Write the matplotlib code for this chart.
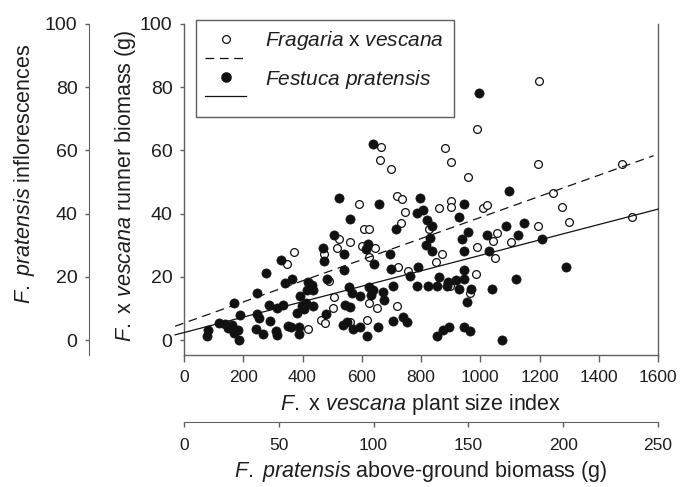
import matplotlib.pyplot as plt
from matplotlib.lines import Line2D

plt.rcParams['font.family'] = ['Liberation Sans', 'DejaVu Sans']
plt.rcParams['mathtext.fontset'] = 'custom'
plt.rcParams['mathtext.rm'] = 'Liberation Sans'
plt.rcParams['mathtext.it'] = 'Liberation Sans:italic'

# Fragaria x vescana (open circles): plant size index, runner biomass (g)
fragaria_x = [1199, 989, 880, 901, 960, 1196, 665, 663, 700, 1477, 1275, 1301, 1511, 1247,
              718, 735, 747, 860, 901, 902, 1008, 1024, 731, 828, 872, 851, 988, 1044, 1055,
              1049, 1104, 1195, 721, 756, 898, 965, 986, 720, 592, 608, 624, 524, 518, 560,
              473, 600, 645, 625, 371, 349, 491, 506, 625, 650, 502, 461, 476, 560, 617, 420]
fragaria_y = [82.1, 66.7, 60.8, 56.2, 51.7, 55.7, 61.2, 57.0, 54.1, 55.6, 42.0, 37.5, 39.0, 46.7,
              45.7, 44.5, 40.6, 41.7, 43.9, 42.2, 41.9, 42.9, 36.9, 35.3, 27.4, 24.7, 29.6, 31.5, 33.8,
              25.9, 30.9, 36.0, 23.0, 21.9, 17.1, 14.8, 20.9, 10.8, 43.2, 35.3, 35.1, 32.0, 29.3, 31.2,
              27.4, 29.7, 29.0, 26.2, 27.8, 24.1, 18.8, 13.5, 11.8, 10.3, 10.3, 6.3, 5.3, 5.8, 6.3, 3.4]

# Festuca pratensis (filled circles): above-ground biomass on the size-index scale, inflorescences
festuca_x = [637, 996, 1289, 1097, 796, 785, 806, 944, 927, 717, 819, 836, 831, 816, 836, 958,
             937, 945, 1022, 1028, 1088, 1126, 1147, 1208, 695, 698, 789, 763, 707, 788, 825, 853,
             861, 887, 892, 919, 945, 945, 929, 969, 955, 1040, 1120, 707, 740, 752, 853, 875, 893,
             945, 965, 1072, 522, 659, 560, 506, 470, 473, 541, 620, 614, 642, 326, 277, 364, 341,
             539, 482, 420, 431, 437, 414, 392, 247, 169, 189, 288, 313, 335, 398, 412, 437, 380,
             405, 558, 568, 594, 625, 631, 639, 671, 675, 545, 560, 478, 538, 549, 572, 594, 619,
             656, 290, 311, 313, 247, 252, 243, 268, 352, 361, 389, 389, 118, 82, 77, 138, 150, 161,
             169, 183, 187]
festuca_y = [62.0, 78.1, 23.0, 47.2, 45.1, 40.3, 41.1, 43.1, 39.1, 35.2, 38.0, 36.1, 32.2, 30.1, 28.3, 34.2,
             32.1, 28.2, 33.1, 28.3, 36.1, 33.1, 37.2, 32.1, 27.2, 22.4, 23.0, 20.3, 17.1, 17.1, 17.1, 17.1,
             20.0, 17.1, 18.5, 19.0, 22.2, 19.2, 16.2, 16.2, 12.2, 16.2, 19.2, 6.1, 7.4, 5.8, 1.4, 3.2, 4.2,
             4.2, 2.9, 0.2, 45.1, 43.2, 38.2, 33.1, 29.2, 25.1, 27.1, 30.4, 28.8, 24.1, 25.3, 21.1, 19.2, 18.1,
             22.2, 19.2, 18.5, 17.4, 16.0, 15.8, 13.9, 15.0, 11.9, 8.1, 11.1, 10.3, 11.1, 10.8, 11.8, 10.8, 8.6,
             9.7, 16.9, 14.8, 13.9, 16.7, 14.2, 15.8, 15.3, 12.7, 11.1, 10.5, 8.2, 4.7, 5.6, 3.4, 4.2, 1.4,
             4.2, 6.1, 2.9, 1.6, 8.4, 6.9, 3.4, 2.1, 4.4, 4.2, 4.0, 2.1, 5.3, 3.2, 1.4, 5.1, 3.7, 4.7,
             2.3, 3.2, 0.0]

# fitted lines (intercept, slope)
fragaria_fit = (5.4, 0.0334)
festuca_fit = (2.4, 0.0244)
fragaria_fit_x = [-30, 1585]
festuca_fit_x = [-30, 1600]

spine_col = '#606060'
text_col = '#1e1e1e'
label_size = 15.5

fig = plt.figure(figsize=(6.86, 4.87), dpi=100)
ax = fig.add_axes([184 / 686, 1 - 355 / 487, 474 / 686, 331 / 487])

ax.plot(fragaria_x, fragaria_y, 'o', ms=5.6, mfc='white', mec='#111111', mew=0.9, zorder=3)
ax.plot(festuca_x, festuca_y, 'o', ms=6.6, mfc='#111111', mec='#111111', mew=0.5, zorder=3)

ax.plot(fragaria_fit_x, [fragaria_fit[0] + fragaria_fit[1] * v for v in fragaria_fit_x],
        color='#111111', lw=0.9, dashes=(7, 4.5), zorder=4, clip_on=False)
ax.plot(festuca_fit_x, [festuca_fit[0] + festuca_fit[1] * v for v in festuca_fit_x],
        color='#111111', lw=0.9, zorder=4, clip_on=False)

ax.set_xlim(0, 1600)
ax.set_ylim(-4.7, 100)
ax.set_xticks(range(0, 1601, 200))
ax.set_yticks(range(0, 101, 20))
ax.spines['top'].set_visible(False)
for s in ['left', 'bottom', 'right']:
    ax.spines[s].set_color(spine_col)
    ax.spines[s].set_linewidth(1.0)
ax.tick_params(axis='x', direction='out', length=4.8, width=1, color=spine_col, labelsize=12.5,
               labelcolor=text_col, pad=6)
ax.tick_params(axis='y', direction='out', length=3.2, width=1, color=spine_col, labelsize=14,
               labelcolor=text_col, pad=5)
ax.set_xlabel('$\\it{F.}$ x $\\it{vescana}$ plant size index', fontsize=label_size, color=text_col)
ax.xaxis.set_label_coords(0.5, -0.112)
ax.set_ylabel('$\\it{F.}$ x $\\it{vescana}$ runner biomass (g)', fontsize=label_size, color=text_col)
ax.yaxis.set_label_coords(-0.097, 0.512)

# outer y axis: F. pratensis inflorescences
ax2 = ax.twinx()
ax2.set_ylim(-4.7, 100)
ax2.set_yticks(range(0, 101, 20))
ax2.yaxis.set_ticks_position('left')
ax2.yaxis.set_label_position('left')
ax2.spines['left'].set_position(('axes', -95 / 474))
for s in ['top', 'right', 'bottom']:
    ax2.spines[s].set_visible(False)
ax2.spines['left'].set_color(spine_col)
ax2.tick_params(direction='out', length=3.2, width=1, color=spine_col, labelsize=14,
                labelcolor=text_col, pad=5)
ax2.set_ylabel('$\\it{F.\\ pratensis}$ inflorescences', fontsize=label_size, color=text_col)
ax2.yaxis.set_label_coords(-0.310, 0.547)

# secondary x axis: F. pratensis above-ground biomass
ax3 = ax.twiny()
ax3.set_xlim(0, 250)
ax3.set_xticks(range(0, 251, 50))
ax3.xaxis.set_ticks_position('bottom')
ax3.xaxis.set_label_position('bottom')
ax3.spines['bottom'].set_position(('outward', 67 * 0.72))
for s in ['top', 'right', 'left']:
    ax3.spines[s].set_visible(False)
ax3.spines['bottom'].set_color(spine_col)
ax3.tick_params(direction='out', length=3.6, width=1, color=spine_col, labelsize=12.5,
                labelcolor=text_col, pad=8)
ax3.set_xlabel('$\\it{F.\\ pratensis}$ above-ground biomass (g)', fontsize=label_size, color=text_col)
ax3.xaxis.set_label_coords(0.5, -0.313)

handles = [
    Line2D([], [], ls='none', marker='o', ms=5.6, mfc='white', mec='#111111', mew=0.9),
    Line2D([], [], color='#111111', lw=0.9, dashes=(7, 4.5)),
    Line2D([], [], ls='none', marker='o', ms=6.6, mfc='#111111', mec='#111111'),
    Line2D([], [], color='#111111', lw=0.9),
]
labels = ['$\\it{Fragaria}$ x $\\it{vescana}$', ' ', '$\\it{Festuca\\ pratensis}$', ' ']
leg = ax.legend(handles, labels, loc='upper left', bbox_to_anchor=(12 / 474, 335 / 331),
                borderaxespad=0, fontsize=15, handlelength=1.97, handletextpad=0.91,
                labelspacing=-0.09, borderpad=0.45, fancybox=False, frameon=True)
leg.get_frame().set_edgecolor('#333333')
leg.get_frame().set_linewidth(1.0)
for t in leg.get_texts():
    t.set_color(text_col)

fig.savefig('out.png', dpi=100)
